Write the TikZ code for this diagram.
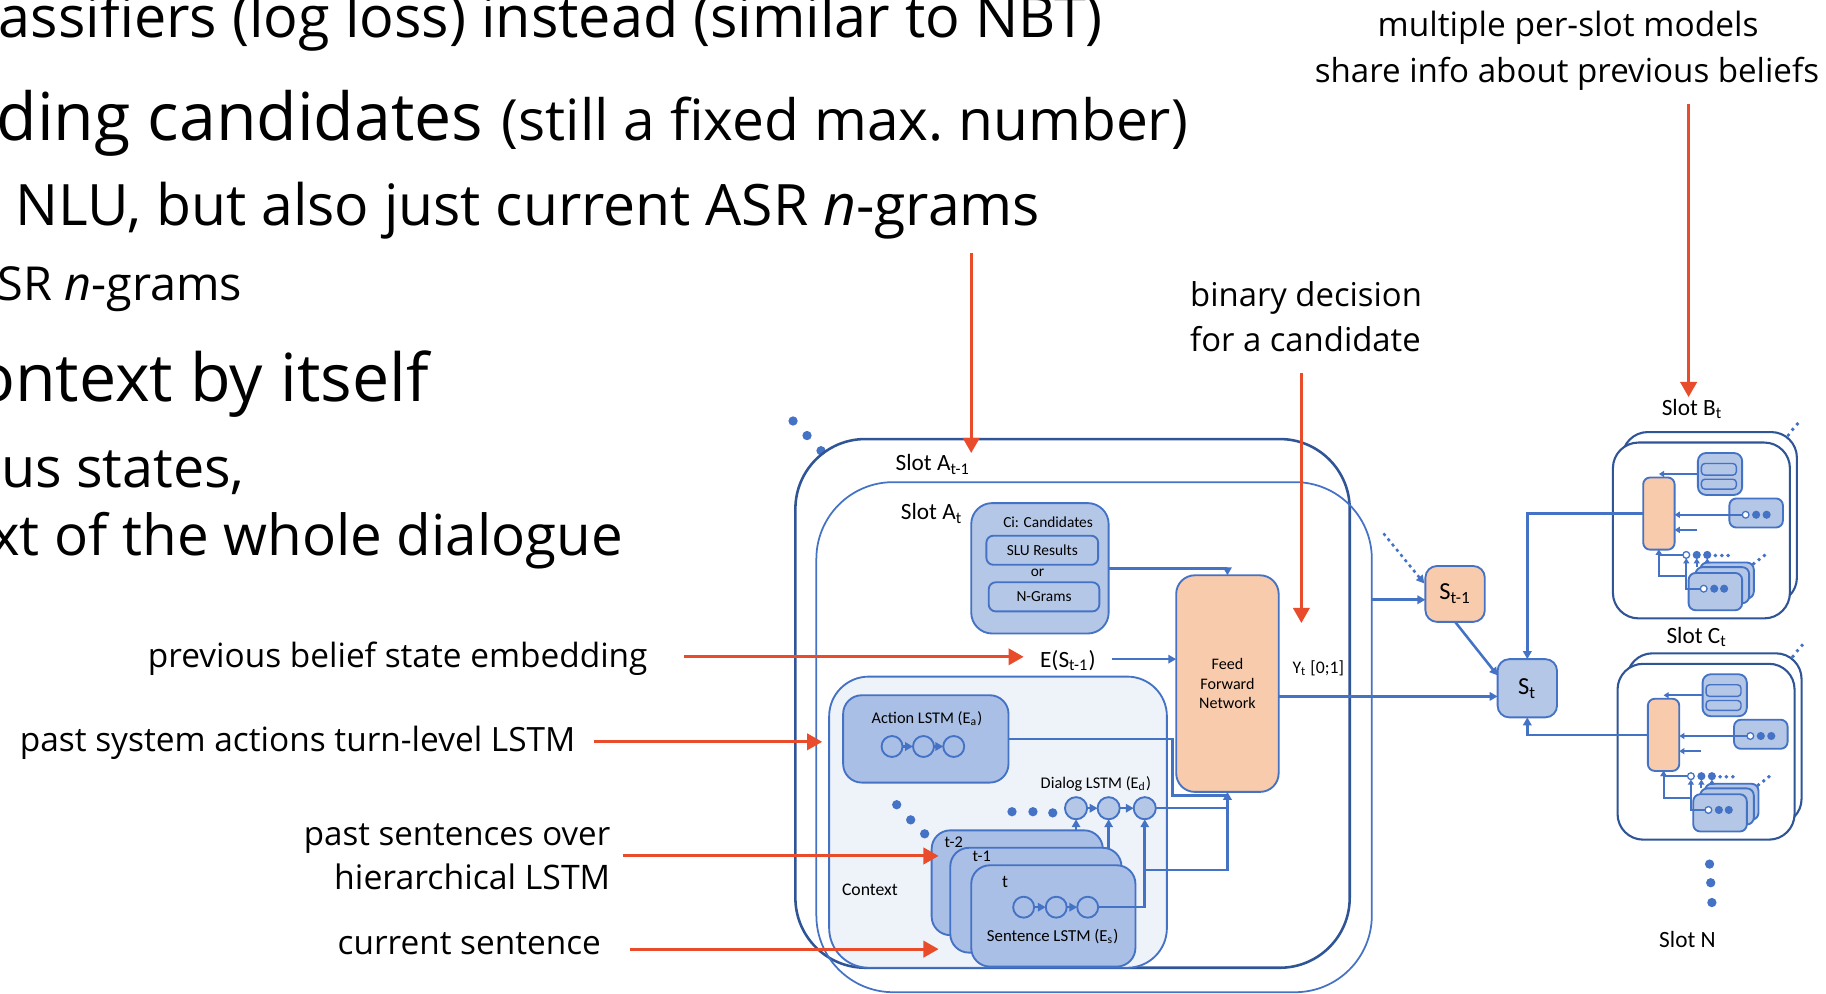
\documentclass[tikz,border=0pt]{standalone}
\usepackage{fontspec}
\setmainfont{Open Sans}
\newfontfamily\diag{Carlito}
\usetikzlibrary{arrows.meta}
\newlength\px
\setlength\px{0.5pt}
\definecolor{dblue}{HTML}{2F5597}
\definecolor{mblue}{HTML}{4472C4}
\definecolor{lblue}{HTML}{B4C7E7}
\definecolor{ablue}{HTML}{A9BFE6}
\definecolor{ctxbg}{HTML}{EEF3FA}
\definecolor{peach}{HTML}{F8CBAD}
\definecolor{redo}{HTML}{E84C2B}
% text scaled to a given width (in picture units)
\newcommand\fitw[2]{\resizebox{#1\px}{!}{#2}}
% box node given by its corners: name, style, x1, y1, x2, y2, text
\newcommand\bx[7]{\node[blk,#2,minimum width={(#5-#3)*0.5pt},minimum height={(#6-#4)*0.5pt}] (#1) at ({(#3+#5)/2},{(#4+#6)/2}) {#7};}
\tikzset{
  txt/.style={inner sep=0pt, outer sep=0pt},
  lbl/.style={inner sep=0pt, outer sep=0pt, font=\diag\fontsize{#1}{12}\selectfont},
  blk/.style={rectangle, draw=mblue, line width=0.8pt, inner sep=0pt, outer sep=0pt},
  ln/.style={draw=mblue, line width=1.1pt},
  arr/.style={ln, -{Triangle[length=3.4pt,width=3.6pt]}},
  marr/.style={draw=mblue, line width=0.85pt, -{Triangle[length=2.2pt,width=2.6pt]}},
  redarr/.style={draw=redo, line width=1.3pt, -{Triangle[length=6.5pt,width=7pt]}},
  circ/.style={circle, draw=mblue, line width=0.8pt, inner sep=0pt, outer sep=0pt, minimum size=9pt},
  mcirc/.style={circle, draw=mblue, line width=0.55pt, inner sep=0pt, outer sep=0pt, minimum size=2.9pt},
  bdot/.style={circle, fill=mblue, inner sep=0pt, minimum size=#1},
  bdot/.default=4pt,
}
% one small per-slot model (Slot B, Slot C), node names prefixed by #1
\newcommand\minislot[1]{%
  \bx{#1back}{draw=dblue,line width=0.9pt,rounded corners=11pt}{1393}{371}{1543}{518}{}
  \bx{#1front}{draw=dblue,line width=0.9pt,fill=white,rounded corners=11pt}{1385}{380}{1537}{531}{}
  \node[bdot=1.7pt] (#1fd1) at (1535.7,373.6) {};
  \node[bdot=1.7pt] (#1fd2) at (1539.4,368.7) {};
  \node[bdot=1.7pt] (#1fd3) at (1543.4,364.1) {};
  \bx{#1ffn}{fill=peach,rounded corners=3pt}{1411}{410}{1438}{472}{}
  \bx{#1cand}{fill=lblue,rounded corners=3.5pt}{1458}{389}{1496}{425}{}
  \bx{#1slu}{fill=lblue,rounded corners=1.5pt,line width=0.6pt}{1461}{398}{1491}{408}{}
  \bx{#1ngr}{fill=lblue,rounded corners=1.5pt,line width=0.6pt}{1461}{411.5}{1491}{420}{}
  \bx{#1act}{fill=lblue,rounded corners=3pt}{1485}{428}{1531}{453}{}
  \node[mcirc,fill=white] (#1a1) at (1499,442) {};
  \node[mcirc,fill=mblue] (#1a2) at (1508,442) {};
  \node[mcirc,fill=mblue] (#1a3) at (1517,442) {};
  \bx{#1sb}{fill=lblue,rounded corners=3pt}{1460}{483}{1506}{514}{}
  \bx{#1sm}{fill=lblue,rounded corners=3pt}{1456}{487}{1502}{518}{}
  \bx{#1sf}{fill=lblue,rounded corners=3pt}{1450}{492}{1496}{524}{}
  \node[mcirc,fill=white] (#1f1) at (1463,505.5) {};
  \node[mcirc,fill=mblue] (#1f2) at (1472,505.5) {};
  \node[mcirc,fill=mblue] (#1f3) at (1480.5,505.5) {};
  \node[bdot=1.7pt] (#1sd1) at (1506,484) {};
  \node[bdot=1.7pt] (#1sd2) at (1510.5,480.5) {};
  \node[bdot=1.7pt] (#1sd3) at (1515,477) {};
  \node[mcirc,fill=white] (#1d1) at (1448,476.5) {};
  \node[mcirc,fill=mblue] (#1d2) at (1457,476.5) {};
  \node[mcirc,fill=mblue] (#1d3) at (1466,476.5) {};
  \node[bdot=1.7pt] (#1dd1) at (1473,477) {};
  \node[bdot=1.7pt] (#1dd2) at (1478.5,477) {};
  \node[bdot=1.7pt] (#1dd3) at (1484,477) {};
  \coordinate (#1j) at (1448,495);
  \coordinate (#1sa) at (1457,455);
  \draw[marr] (#1cand.west) -- (#1cand.west -| #1ffn.north);
  \draw[marr] (#1a1.west) -- (#1a1.west -| #1ffn.east);
  \draw[marr] (#1sa) -- (#1sa -| #1ffn.east);
  \draw[marr] (#1d1.west) -| (#1ffn.south);
  \draw[marr] (#1f1.west) -| (#1j) -| (#1ffn.south);
  \draw[marr] (#1j) -- (#1d1.south);
  \draw[marr] (#1d2.south |- #1sm.north) -- (#1d2.south);
  \draw[marr] (#1d3.south |- #1sb.north) -- (#1d3.south);
}
\begin{document}
\begin{tikzpicture}[x=0.5pt,y=-0.5pt]
\useasboundingbox (0,0) rectangle (1568,853);
\clip (0,0) rectangle (1568,853);

% ---- slide text ----
\node[txt,anchor=base west] (s1) at (-1,32) {\fitw{948}{assifiers (log loss) instead (similar to NBT)}};
\node[txt,anchor=base west] (s2a) at (-3,121) {\fitw{418}{ding candidates}};
\node[txt,anchor=base west] (s2b) at (431,121) {\fitw{589}{(still a fixed max.\ number)}};
\node[txt,anchor=base west] (s3) at (13,194) {\fitw{880}{NLU, but also just current ASR \textit{n}-grams}};
\node[txt,anchor=base west] (s4) at (-2,258) {\fitw{210}{SR \textit{n}-grams}};
\node[txt,anchor=base west] (s5) at (13,345) {\fitw{355}{\llap{o}ntext by itself}};
\node[txt,anchor=base west] (s6) at (1,419) {\fitw{209}{us states,}};
\node[txt,anchor=base west] (s7) at (17,477) {\fitw{518}{\llap{x}t of the whole dialogue}};

% ---- annotations ----
\node[txt,anchor=base west] (a1) at (127,573) {\fitw{429}{previous belief state embedding}};
\node[txt,anchor=base west] (a2) at (17,645) {\fitw{477}{past system actions turn-level LSTM}};
\node[txt,anchor=base east] (a3) at (524,726) {\fitw{263}{past sentences over}};
\node[txt,anchor=base east] (a4) at (524,764) {\fitw{237}{hierarchical LSTM}};
\node[txt,anchor=base west] (a5) at (290,820) {\fitw{226}{current sentence}};
\node[txt,anchor=base west] (a6) at (1022,263.5) {\fitw{199}{binary decision}};
\node[txt,anchor=base west] (a7) at (1022,302) {\fitw{198}{for a candidate}};
\node[txt,anchor=base west] (a8) at (1183,31) {\fitw{327}{multiple per-slot models}};
\node[txt,anchor=base west] (a9) at (1129,71) {\fitw{433}{share info about previous beliefs}};

% ---- slot frames ----
\node[bdot] (td1) at (681,361.5) {};
\node[bdot] (td2) at (693,374) {};
\node[bdot] (td3) at (705,387) {};
\bx{slotA1}{draw=dblue,line width=1.1pt,rounded corners=30pt}{683}{377}{1159}{831}{}
\bx{slotA}{line width=0.75pt,rounded corners=33pt}{701}{414}{1178}{852}{}
\node[lbl=10] (lA1) at (801,399) {Slot A\textsubscript{t-1}};
\node[lbl=10] (lA) at (800,441) {Slot A\textsubscript{t}};

% ---- candidates ----
\bx{cand}{fill=lblue,rounded corners=9pt}{834}{432}{952}{544}{}
\node[lbl=6.6] (lCi) at (900,448) {Ci: Candidates};
\bx{slu}{rounded corners=3pt}{847}{460}{943}{485}{\diag\fontsize{6.6}{8}\selectfont SLU Results}
\node[lbl=6.6] (lor) at (891,492) {or};
\bx{ngr}{rounded corners=3pt}{849}{500}{944}{525}{\diag\fontsize{6.6}{8}\selectfont N-Grams}

% ---- feed forward network ----
\bx{ffn}{fill=peach,rounded corners=8pt}{1010}{494}{1098}{680}{}
\node[txt,align=center,font=\diag\fontsize{6.9}{8.5}\selectfont] (ffnlbl) at (1054,587) {Feed\\Forward\\Network};
\node[lbl=10] (es) at (917,567) {E(S\textsubscript{t-1})};
\node[lbl=7.6] (lYt) at (1132,574) {Y\textsubscript{t} [0;1]};

% ---- context ----
\bx{ctx}{fill=ctxbg,rounded corners=17pt}{712}{581}{1002}{831}{}
\node[lbl=7.6] (lCtx) at (747,764) {Context};
\bx{act}{fill=ablue,rounded corners=8pt}{724}{597}{866}{672}{}
\node[lbl=7] (lAct) at (796,617) {Action LSTM (E\textsubscript{a})};
\node[circ,fill=ablue] (c1) at (766,641) {};
\node[circ,fill=ablue] (c2) at (793,641) {};
\node[circ,fill=ablue] (c3) at (819,641) {};
\node[bdot] (cd1) at (770,691) {};
\node[bdot] (cd2) at (782,704) {};
\node[bdot] (cd3) at (794,716) {};
\node[lbl=7] (lDlg) at (941,673) {Dialog LSTM (E\textsubscript{d})};
\node[bdot] (dd1) at (869,697) {};
\node[bdot] (dd2) at (887,697) {};
\node[bdot] (dd3) at (904,698) {};
\node[circ,fill=lblue,minimum size=9.5pt] (d1) at (924,694) {};
\node[circ,fill=lblue,minimum size=9.5pt] (d2) at (952,694) {};
\node[circ,fill=lblue,minimum size=9.5pt] (d3) at (983,694) {};
\bx{t2}{fill=ablue,rounded corners=8pt}{800}{713}{947}{803}{}
\node[lbl=7] (lt2) at (819,723) {t-2};
\bx{t1}{fill=ablue,rounded corners=8pt}{816}{728}{963}{818}{}
\node[lbl=7] (lt1) at (843,735) {t-1};
\bx{t0}{fill=ablue,rounded corners=8pt}{834}{743}{975}{830}{}
\node[lbl=7.6] (lt0) at (863,757) {t};
\node[circ,fill=ablue] (e1) at (879,779) {};
\node[circ,fill=ablue] (e2) at (907,779) {};
\node[circ,fill=ablue] (e3) at (934,779) {};
\node[lbl=7.2] (lSen) at (904,804) {Sentence LSTM (E\textsubscript{s})};

% ---- connectors in slot A ----
\draw[arr] (c1) -- (c2);
\draw[arr] (c2) -- (c3);
\draw[arr] (d1) -- (d2);
\draw[arr] (d2) -- (d3);
\draw[arr] (e1) -- (e2);
\draw[arr] (e2) -- (e3);
\draw[arr] (cand.east) -| (ffn.north);
\coordinate (esout) at (955,566);
\draw[arr] (esout) -- (esout -| ffn.west);
\draw[ln] (act.east) -| (1007,683) -- (ffn.south |- 0,683);
\draw[arr] (d3.east) -| (ffn.south);
\draw[arr] (e3.east) -| (d3.south);
\draw[ln] (d3.south |- 0,747) -| (ffn.south |- d3.east);
\draw[arr] (d1.south |- t2.north) -- (d1.south);
\draw[arr] (d2.south |- t1.north) -- (d2.south);

% ---- belief state ----
\bx{stm1}{fill=peach,rounded corners=5pt}{1224}{486}{1275}{534}{\diag\fontsize{10.5}{12}\selectfont S\textsubscript{t-1}}
\bx{st}{fill=lblue,rounded corners=5pt}{1286}{566}{1337}{616}{\diag\fontsize{10.5}{12}\selectfont S\textsubscript{t}}
\coordinate (atedge) at (1178,515);
\draw[arr] (atedge) -- (atedge -| stm1.west);
\coordinate (dots0) at (1188,458);
\coordinate (dots1) at (1223,501);
\draw[arr,dash pattern=on 1.3pt off 1.6pt] (dots0) -- (dots1);
\coordinate (stin) at (1286,580);
\draw[arr] (stm1.south) -- (stin);
\draw[arr] (ffn.east |- 0,598) -- (st.west |- 0,598);

% ---- other slots ----
\node[lbl=10] (lSB) at (1453,351) {Slot B\textsubscript{t}};
\minislot{B}
\node[lbl=10] (lSC) at (1457,547) {Slot C\textsubscript{t}};
\begin{scope}[shift={(4,190)}]
\minislot{C}
\end{scope}
\draw[arr] (Bffn.west) -| (st.north);
\draw[arr] (Cffn.west) -| (st.south);
\node[bdot] (nd1) at (1468,742) {};
\node[bdot] (nd2) at (1469,758) {};
\node[bdot] (nd3) at (1470,775) {};
\node[lbl=10] (lSN) at (1449,807) {Slot N};

% ---- annotation arrows ----
\coordinate (rA0) at (1450,89);   \coordinate (rA1) at (1450,341);
\coordinate (rB0) at (1117.5,320); \coordinate (rB1) at (1117.5,535);
\coordinate (rC0) at (834,217);   \coordinate (rC1) at (834,389);
\coordinate (rD0) at (587,564);   \coordinate (rD1) at (879,564);
\coordinate (rE0) at (510,637);   \coordinate (rE1) at (706,637);
\coordinate (rF0) at (535,735);   \coordinate (rF1) at (806,735);
\coordinate (rG0) at (541,815);   \coordinate (rG1) at (806,815);
\draw[redarr] (rA0) -- (rA1);
\draw[redarr] (rB0) -- (rB1);
\draw[redarr] (rC0) -- (rC1);
\draw[redarr] (rD0) -- (rD1);
\draw[redarr] (rE0) -- (rE1);
\draw[redarr] (rF0) -- (rF1);
\draw[redarr] (rG0) -- (rG1);
\end{tikzpicture}
\end{document}
